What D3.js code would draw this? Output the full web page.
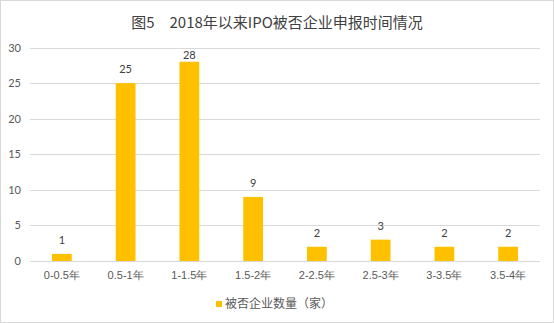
<!DOCTYPE html>
<html><head><meta charset="utf-8">
<script src="https://cdn.jsdelivr.net/npm/d3@7"></script>
<style>body{margin:0;background:#fff}svg{display:block;font-family:"Noto Sans CJK SC","DejaVu Sans",sans-serif}</style>
</head><body><svg id="c" width="554" height="323"></svg>
<script>
const categories = ["0-0.5年","0.5-1年","1-1.5年","1.5-2年","2-2.5年","2.5-3年","3-3.5年","3.5-4年"];
const values = [1,25,28,9,2,3,2,2];
const yTicks = [0,5,10,15,20,25,30];
const title = "图5　2018年以来IPO被否企业申报时间情况";
const seriesName = "被否企业数量（家）";

const svg = d3.select("#c");
svg.append("rect").attr("x",0.5).attr("y",0.5).attr("width",553).attr("height",322)
  .attr("fill","#fff").attr("stroke","#d9d9d9");
const m = {l:30, r:14, t:47.5, b:62};
const W = 554, H = 323;
const x = d3.scaleBand().domain(categories).range([m.l, W-m.r]).paddingInner(0.69).paddingOuter(0.345);
const y = d3.scaleLinear().domain([0,30]).range([H-m.b, m.t]);

svg.append("g").selectAll("line").data(yTicks).join("line")
  .attr("x1",m.l).attr("x2",W-m.r).attr("y1",d=>Math.round(y(d))+0.5).attr("y2",d=>Math.round(y(d))+0.5)
  .attr("stroke","#d9d9d9").attr("stroke-width",1);

const yAxis = d3.axisLeft(y).tickValues(yTicks).tickSize(0).tickPadding(0);
const ga = svg.append("g").attr("transform",`translate(${21},0)`).call(yAxis);
ga.select(".domain").remove();
ga.selectAll("text").attr("font-size",11).attr("fill","#595959").attr("font-family","Lato, 'DejaVu Sans', sans-serif");

svg.append("g").selectAll("rect").data(values).join("rect")
  .attr("x",(d,i)=>x(categories[i])).attr("width",x.bandwidth())
  .attr("y",d=>y(d)).attr("height",d=>y(0)-y(d)).attr("fill","#FFC000");

svg.append("g").selectAll("text").data(values).join("text")
  .attr("x",(d,i)=>x(categories[i])+x.bandwidth()/2).attr("y",d=>Math.max(y(d)-10, 59))
  .attr("text-anchor","middle").attr("font-size",11).attr("fill","#404040")
  .attr("font-family","Lato, 'DejaVu Sans', sans-serif").text(d=>d);

const xAxis = d3.axisBottom(x).tickSize(0).tickPadding(0);
const gx = svg.append("g").attr("transform",`translate(0,${y(0)+10})`).call(xAxis);
gx.select(".domain").remove();
gx.selectAll("text").attr("font-size",11).attr("fill","#595959").attr("dy","0.71em");

svg.append("text").attr("x",277).attr("y",28).attr("text-anchor","middle")
  .attr("font-size",15).attr("fill","#404040").text(title);

const lg = svg.append("g");
lg.append("rect").attr("x",216).attr("y",301).attr("width",6).attr("height",6).attr("fill","#FFC000");
lg.append("text").attr("x",225).attr("y",308).attr("font-size",12).attr("fill","#595959").text(seriesName);
</script></body></html>
